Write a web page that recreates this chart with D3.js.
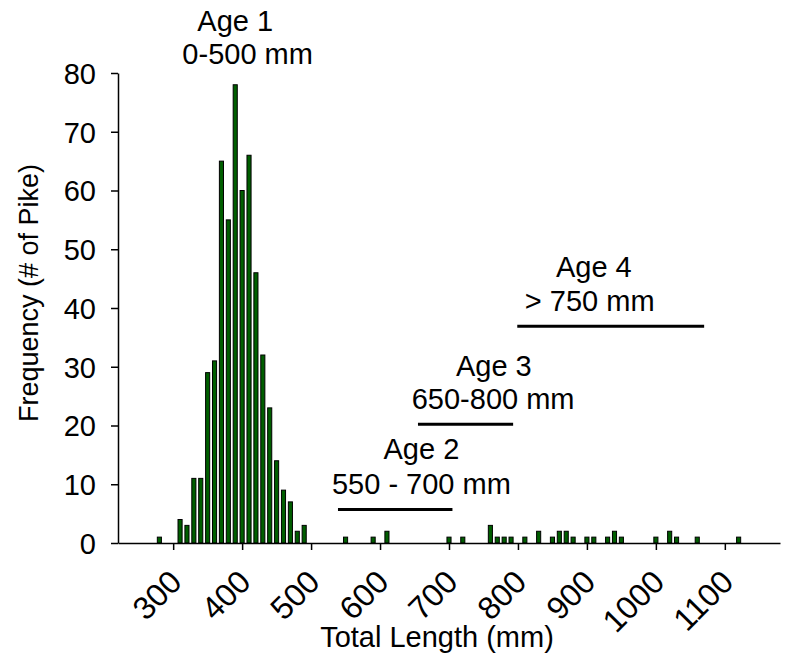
<!DOCTYPE html>
<html>
<head>
<meta charset="utf-8">
<script src="https://cdn.jsdelivr.net/npm/d3@7"></script>
<style>
    body { margin: 0; background: #fff; }
    text { font-family: "Liberation Sans", Arial, sans-serif; fill: #000; }
    .axis text { font-size: 29px; }
    .x-axis text { font-size: 32px; }
    .axis path, .axis line { stroke: #000; stroke-width: 1.5px; }
    .axis-title, .age-label { font-size: 29px; }
    .y-title { font-size: 27px; }
</style>
</head>
<body>
<div id="chart"></div>
<script>
// Bin centres (mm) and number of pike in each 10 mm bin
const lengths = [280, 310, 320, 330, 340, 350, 360, 370, 380, 390, 400, 410, 420, 430, 440, 450, 460, 470, 480, 490,
    550, 590, 610, 700, 720, 760, 770, 780, 790, 810, 830, 850, 860, 870, 880, 900, 910, 930, 940, 950,
    1000, 1020, 1030, 1060, 1120];
const counts = [1, 4, 3, 11, 11, 29, 31, 65, 55, 78, 60, 66, 46, 32, 23, 14, 9, 7, 2, 3,
    1, 1, 2, 1, 1, 3, 1, 1, 1, 1, 2, 1, 2, 2, 1, 1, 1, 1, 2, 1,
    1, 2, 1, 1, 1];

const xTicks = [300, 400, 500, 600, 700, 800, 900, 1000, 1100];
const yTicks = [0, 10, 20, 30, 40, 50, 60, 70, 80];

// Age class annotations: title, size range, and where they sit in data units
const ageTitles = ['Age 1', 'Age 2', 'Age 3', 'Age 4'];
const ageRanges = ['0-500 mm', '550 - 700 mm', '650-800 mm', '> 750 mm'];
const ageTitleAt = [[390, 87.1], [660, 14.3], [765, 28.4], [910, 45.3]];
const ageRangeAt = [[408, 81.6], [660, 8.3], [764, 22.8], [904, 39.5]];
const ageLines = [null, [539, 705, 5.7], [655, 793, 20.2], [799, 1070, 36.9]];

class Histogram {

    constructor(_config, _data) {
        this.config = {
            parentElement: _config.parentElement,
            containerWidth: _config.containerWidth || 792,
            containerHeight: _config.containerHeight || 667,
            margin: _config.margin || { top: 73, right: 12, bottom: 124, left: 118 },
            binWidth: 10,
        }
        this.data = _data;
        this.initVis();
    }

    initVis() {
        let vis = this;

        vis.width = vis.config.containerWidth - vis.config.margin.left - vis.config.margin.right;
        vis.height = vis.config.containerHeight - vis.config.margin.top - vis.config.margin.bottom;

        vis.xScale = d3.scaleLinear()
            .domain([220, 1180])
            .range([0, vis.width]);

        vis.yScale = d3.scaleLinear()
            .domain([0, 80])
            .range([vis.height, 0]);

        vis.xAxis = d3.axisBottom(vis.xScale)
            .tickValues(xTicks)
            .tickFormat(d3.format('d'))
            .tickSize(7)
            .tickSizeOuter(0);

        vis.yAxis = d3.axisLeft(vis.yScale)
            .tickValues(yTicks)
            .tickSize(7)
            .tickSizeOuter(0)
            .tickPadding(15);

        vis.svg = d3.select(vis.config.parentElement).append('svg')
            .attr('width', vis.config.containerWidth)
            .attr('height', vis.config.containerHeight);

        vis.chart = vis.svg.append('g')
            .attr('transform', `translate(${vis.config.margin.left},${vis.config.margin.top})`);

        vis.chartArea = vis.chart.append('g').attr('class', 'chart-area');

        vis.xAxisG = vis.chart.append('g')
            .attr('class', 'axis x-axis')
            .attr('transform', `translate(0,${vis.height})`);

        vis.yAxisG = vis.chart.append('g')
            .attr('class', 'axis y-axis');

        // Axis titles
        vis.svg.append('text')
            .attr('class', 'axis-title')
            .attr('x', 437)
            .attr('y', 647)
            .attr('text-anchor', 'middle')
            .text('Total Length (mm)');

        vis.svg.append('text')
            .attr('class', 'axis-title y-title')
            .attr('transform', 'translate(38,293) rotate(-90)')
            .attr('text-anchor', 'middle')
            .text('Frequency (# of Pike)');

        vis.updateVis();
    }

    updateVis() {
        let vis = this;
        vis.xValue = d => d.length;
        vis.yValue = d => d.count;
        vis.renderVis();
    }

    renderVis() {
        let vis = this;
        const half = vis.config.binWidth / 2;

        // Bars, one per 10 mm bin, a little narrower than the bin
        vis.chartArea.selectAll('.bar')
            .data(vis.data)
            .join('rect')
            .attr('class', 'bar')
            .attr('x', d => vis.xScale(vis.xValue(d) - half) + 1.4)
            .attr('width', d => vis.xScale(vis.xValue(d) + half) - vis.xScale(vis.xValue(d) - half) - 2.8)
            .attr('y', d => vis.yScale(vis.yValue(d)))
            .attr('height', d => vis.height - vis.yScale(vis.yValue(d)))
            .style('fill', '#005e00')
            .style('stroke', '#000')
            .style('stroke-width', 1);

        // Rotated tick labels, text ends just right of the tick
        vis.xAxisG.call(vis.xAxis);
        vis.xAxisG.selectAll('.tick text')
            .attr('x', 0)
            .attr('y', 0)
            .attr('dy', 0)
            .attr('text-anchor', 'end')
            .attr('transform', 'translate(10,41) rotate(-45)');

        vis.yAxisG.call(vis.yAxis);
        vis.yAxisG.selectAll('.tick text').attr('dy', '0.36em');

        // Age class labels and bars
        const ages = ageTitles.map((t, i) => ({
            title: t, range: ageRanges[i], titleAt: ageTitleAt[i], rangeAt: ageRangeAt[i], line: ageLines[i]
        }));

        vis.chart.selectAll('.age-title')
            .data(ages)
            .join('text')
            .attr('class', 'age-label age-title')
            .attr('x', d => vis.xScale(d.titleAt[0]))
            .attr('y', d => vis.yScale(d.titleAt[1]))
            .attr('text-anchor', 'middle')
            .text(d => d.title);

        vis.chart.selectAll('.age-range')
            .data(ages)
            .join('text')
            .attr('class', 'age-label age-range')
            .attr('x', d => vis.xScale(d.rangeAt[0]))
            .attr('y', d => vis.yScale(d.rangeAt[1]))
            .attr('text-anchor', 'middle')
            .text(d => d.range);

        vis.chart.selectAll('.age-line')
            .data(ages.filter(d => d.line))
            .join('line')
            .attr('class', 'age-line')
            .attr('x1', d => vis.xScale(d.line[0]))
            .attr('x2', d => vis.xScale(d.line[1]))
            .attr('y1', d => vis.yScale(d.line[2]))
            .attr('y2', d => vis.yScale(d.line[2]))
            .style('stroke', '#000')
            .style('stroke-width', 3);
    }
}

const data = lengths.map((l, i) => ({ length: l, count: counts[i] }));
const histogram = new Histogram({ parentElement: '#chart' }, data);
</script>
</body>
</html>
